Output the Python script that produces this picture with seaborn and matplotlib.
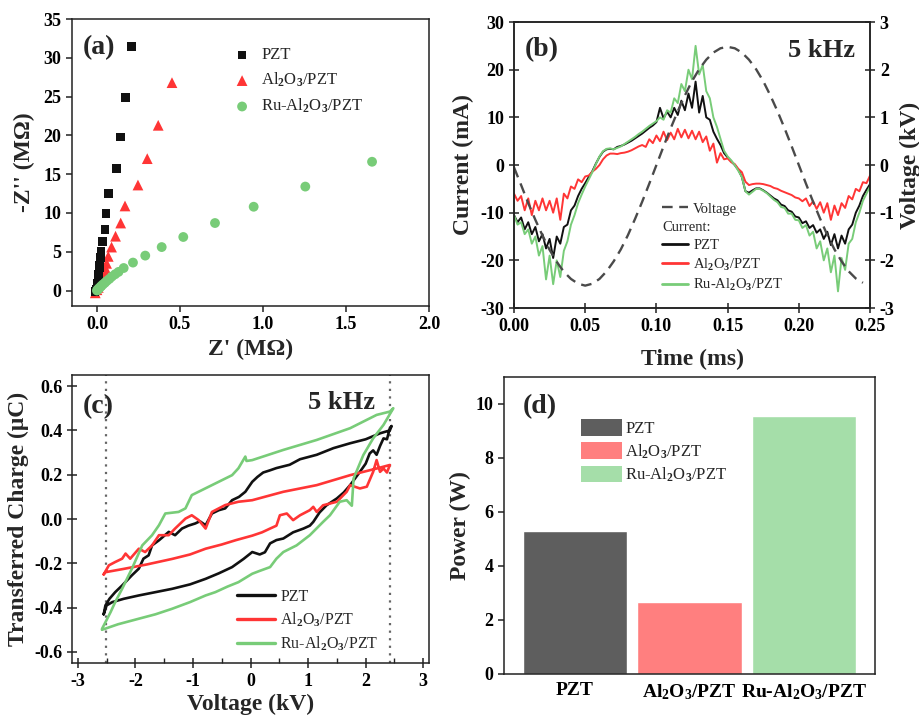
import matplotlib
matplotlib.use("Agg")
import matplotlib.pyplot as plt
from matplotlib.lines import Line2D
from matplotlib.patches import Patch
from matplotlib.ticker import FormatStrFormatter, MultipleLocator
import seaborn as sns

# ---------------- data ----------------
# (a) Nyquist plot, Z' / -Z'' in MOhm
zr_pzt = [-0.012, -0.006, 0.0, 0.003, 0.005, 0.007, 0.009, 0.011, 0.013, 0.015, 0.017,
          0.019, 0.021, 0.024, 0.034, 0.048, 0.054, 0.068, 0.118, 0.143, 0.171, 0.209]
zi_pzt = [-0.1, 0.1, 0.3, 0.6, 0.9, 1.3, 1.7, 2.1, 2.5, 2.9, 3.3,
          3.8, 4.3, 5.0, 6.3, 7.9, 9.9, 12.5, 15.7, 19.8, 24.9, 31.5]
zr_al = [-0.01, 0.0, 0.008, 0.015, 0.022, 0.03, 0.037, 0.044, 0.05, 0.058,
         0.068, 0.088, 0.112, 0.143, 0.169, 0.247, 0.303, 0.369, 0.452]
zi_al = [-0.3, 0.1, 0.4, 0.8, 1.2, 1.6, 2.0, 2.5, 2.9, 3.5,
         4.4, 5.6, 7.0, 8.7, 10.9, 13.6, 17.0, 21.3, 26.8]
zr_ru = [0.0, 0.005, 0.011, 0.018, 0.026, 0.036, 0.048, 0.06, 0.075, 0.09, 0.11,
         0.13, 0.161, 0.217, 0.291, 0.39, 0.52, 0.711, 0.944, 1.255, 1.657]
zi_ru = [0.0, 0.12, 0.25, 0.4, 0.58, 0.78, 1.0, 1.25, 1.5, 1.8, 2.1,
         2.4, 2.9, 3.6, 4.5, 5.6, 6.9, 8.7, 10.8, 13.4, 16.6]

# (b) current traces (mA) and applied voltage (kV) versus time (ms)
t_ms = [0.0000, 0.0025, 0.0050, 0.0075, 0.0100, 0.0125, 0.0150, 0.0175, 0.0200, 0.0225,
        0.0250, 0.0275, 0.0300, 0.0325, 0.0350, 0.0375, 0.0400, 0.0425, 0.0450, 0.0475,
        0.0500, 0.0525, 0.0550, 0.0575, 0.0600, 0.0625, 0.0650, 0.0675, 0.0700, 0.0725,
        0.0750, 0.0775, 0.0800, 0.0825, 0.0850, 0.0875, 0.0900, 0.0925, 0.0950, 0.0975,
        0.1000, 0.1025, 0.1050, 0.1075, 0.1100, 0.1125, 0.1150, 0.1175, 0.1200, 0.1225,
        0.1250, 0.1275, 0.1300, 0.1325, 0.1350, 0.1375, 0.1400, 0.1425, 0.1450, 0.1475,
        0.1500, 0.1525, 0.1550, 0.1575, 0.1600, 0.1625, 0.1650, 0.1675, 0.1700, 0.1725,
        0.1750, 0.1775, 0.1800, 0.1825, 0.1850, 0.1875, 0.1900, 0.1925, 0.1950, 0.1975,
        0.2000, 0.2025, 0.2050, 0.2075, 0.2100, 0.2125, 0.2150, 0.2175, 0.2200, 0.2225,
        0.2250, 0.2275, 0.2300, 0.2325, 0.2350, 0.2375, 0.2400, 0.2425, 0.2450, 0.2475,
        0.2500]
i_pzt = [-10.5, -12.0, -11.0, -13.5, -12.0, -14.5, -13.0, -16.0, -14.5, -17.5,
         -15.5, -19.5, -15.0, -16.5, -13.0, -12.5, -9.5, -8.5, -6.5, -5.0,
         -3.8, -2.5, -1.3, 0.3, 1.7, 2.8, 3.3, 3.4, 3.3, 3.8,
         4.0, 4.3, 4.7, 5.1, 5.6, 6.1, 6.6, 7.2, 7.8, 8.3,
         9.0, 12.0, 9.8, 11.2, 10.0, 12.0, 10.5, 13.5, 11.5, 15.0,
         12.0, 17.5, 11.0, 14.5, 10.0, 9.5, 7.0, 5.5, 4.2, 2.5,
         1.6, 0.8, 0.0, -1.0, -2.5, -5.5, -5.8, -5.3, -4.9, -4.9,
         -5.3, -5.8, -6.4, -7.0, -7.4, -8.3, -8.6, -9.5, -9.8, -10.8,
         -11.0, -12.2, -11.8, -13.2, -12.6, -14.2, -13.5, -15.5, -14.0, -16.8,
         -14.5, -17.5, -14.8, -16.5, -13.5, -12.5, -10.0, -8.5, -6.5, -5.2,
         -4.0]
i_al = [-6.0, -7.5, -6.5, -9.5, -7.0, -10.5, -7.5, -9.5, -7.0, -9.5,
        -7.5, -10.0, -7.0, -11.5, -6.0, -7.0, -4.5, -5.0, -3.0, -3.6,
        -2.4, -2.2, -1.4, -0.8, 0.0, 1.2, 2.0, 2.4, 2.4, 2.3,
        2.5, 2.6, 2.8, 3.1, 3.5, 3.9, 4.2, 3.8, 5.4, 4.6,
        6.2, 5.0, 7.0, 5.2, 6.8, 5.4, 7.6, 5.8, 7.4, 5.6,
        7.2, 5.4, 7.0, 4.8, 6.0, 3.0, 4.5, 0.5, 2.5, 1.2,
        1.4, 0.6, 0.2, -0.8, -1.5, -3.5, -4.2, -4.0, -3.9, -3.9,
        -4.0, -4.2, -4.4, -4.8, -5.0, -5.4, -5.7, -6.0, -6.3, -6.8,
        -7.0, -7.6, -7.0, -8.6, -7.6, -9.2, -7.8, -10.0, -8.0, -11.5,
        -8.5, -10.5, -8.0, -9.0, -6.5, -7.2, -5.0, -5.5, -3.6, -3.8,
        -2.2]
i_ru = [-10.5, -12.5, -12.0, -14.5, -13.5, -16.5, -15.0, -19.0, -17.0, -24.0,
        -19.0, -25.0, -20.0, -23.5, -18.0, -16.0, -12.5, -10.5, -8.0, -6.2,
        -4.5, -3.0, -1.5, 0.2, 1.8, 2.9, 3.4, 3.5, 3.3, 3.6,
        3.9, 4.4, 4.9, 5.4, 5.9, 6.5, 7.0, 7.6, 8.2, 8.7,
        9.2, 10.0, 9.5, 11.5, 11.0, 14.0, 13.0, 17.0, 15.5, 20.0,
        18.0, 25.0, 19.0, 21.0, 15.5, 14.0, 10.0, 8.0, 5.5, 3.0,
        1.8, 1.0, 0.0, -1.2, -2.5, -5.5, -6.2, -5.6, -5.0, -5.0,
        -5.4, -5.9, -6.6, -7.3, -7.8, -8.8, -9.0, -10.2, -10.2, -11.5,
        -11.6, -13.2, -12.6, -14.8, -14.0, -17.5, -16.0, -20.0, -17.5, -22.5,
        -19.0, -26.5, -19.5, -22.0, -16.5, -15.5, -12.0, -10.0, -7.5, -6.0,
        -4.5]
tv_ms = [0.000, 0.005, 0.010, 0.015, 0.020, 0.025, 0.030, 0.035, 0.040, 0.045,
         0.050, 0.055, 0.060, 0.065, 0.070, 0.075, 0.080, 0.085, 0.090, 0.095,
         0.100, 0.105, 0.110, 0.115, 0.120, 0.125, 0.130, 0.135, 0.140, 0.145,
         0.150, 0.155, 0.160, 0.165, 0.170, 0.175, 0.180, 0.185, 0.190, 0.195,
         0.200, 0.205, 0.210, 0.215, 0.220, 0.225, 0.230, 0.235, 0.240, 0.245]
v_kv = [-0.05, -0.42, -0.80, -1.15, -1.48, -1.78, -2.03, -2.24, -2.39, -2.49,
        -2.53, -2.49, -2.39, -2.23, -2.02, -1.77, -1.47, -1.13, -0.77, -0.39,
        0.00, 0.39, 0.77, 1.13, 1.46, 1.76, 2.01, 2.21, 2.36, 2.45,
        2.48, 2.45, 2.36, 2.21, 2.01, 1.76, 1.46, 1.13, 0.77, 0.39,
        0.00, -0.39, -0.77, -1.13, -1.47, -1.77, -2.02, -2.23, -2.38, -2.47]

# (c) Q-V loops: lower branch (left to right) then upper branch (right to left)
v_pzt = [-2.55, -2.50, -2.40, -2.20, -1.94, -1.65, -1.36, -1.05, -0.78, -0.55, -0.32, -0.12,
         0.03, 0.16, 0.25, 0.34, 0.45, 0.57, 0.74, 0.92, 1.03, 1.09, 1.20, 1.32, 1.50, 1.62,
         1.73, 1.90, 2.00, 2.07, 2.13, 2.19, 2.25, 2.31, 2.37, 2.42, 2.45,
         2.42, 2.25, 2.00, 1.73, 1.44, 1.15, 0.86, 0.68, 0.45, 0.34, 0.22, 0.12, 0.03,
         -0.09, -0.20, -0.32, -0.44, -0.55, -0.67, -0.78, -0.88, -0.96, -1.08, -1.19, -1.31,
         -1.42, -1.59, -1.71, -1.77, -1.86, -1.94, -2.06, -2.23, -2.35, -2.45, -2.52, -2.55]
q_pzt = [-0.43, -0.39, -0.375, -0.36, -0.345, -0.33, -0.315, -0.295, -0.27, -0.245, -0.217, -0.18,
         -0.149, -0.16, -0.15, -0.11, -0.095, -0.088, -0.06, -0.043, -0.03, -0.013, 0.03, 0.062,
         0.093, 0.12, 0.153, 0.213, 0.25, 0.296, 0.31, 0.29, 0.33, 0.364, 0.36, 0.41, 0.42,
         0.40, 0.387, 0.36, 0.342, 0.32, 0.29, 0.27, 0.245, 0.23, 0.22, 0.21, 0.19, 0.168,
         0.123, 0.10, 0.085, 0.048, 0.04, 0.025, -0.028, -0.01, -0.02, -0.03, -0.043, -0.073,
         -0.058, -0.096, -0.119, -0.164, -0.179, -0.224, -0.254, -0.30, -0.33, -0.36, -0.39, -0.43]
v_al = [-2.55, -2.52, -2.20, -1.80, -1.36, -1.05, -0.78, -0.50, -0.25, 0.03, 0.20, 0.34,
        0.45, 0.51, 0.63, 0.74, 0.86, 1.03, 1.09, 1.15, 1.26, 1.50, 1.67, 1.73, 1.90, 2.02,
        2.13, 2.19, 2.25, 2.31, 2.37, 2.42,
        2.42, 2.19, 1.73, 1.15, 0.57, 0.03, -0.21, -0.44, -0.67, -0.78, -0.90, -1.02, -1.13,
        -1.31, -1.42, -1.59, -1.71, -1.83, -1.94, -2.09, -2.17, -2.23, -2.35, -2.46, -2.55]
q_al = [-0.25, -0.24, -0.225, -0.205, -0.18, -0.16, -0.134, -0.115, -0.095, -0.075, -0.06, -0.043,
        -0.03, 0.017, 0.025, -0.005, 0.017, 0.04, 0.055, 0.032, 0.062, 0.078, 0.123, 0.153,
        0.138, 0.146, 0.213, 0.266, 0.213, 0.228, 0.21, 0.244,
        0.244, 0.228, 0.198, 0.153, 0.123, 0.085, 0.078, 0.063, 0.032, -0.043, -0.005, 0.017,
        0.002, -0.043, -0.073, -0.073, -0.119, -0.149, -0.134, -0.179, -0.156, -0.179, -0.194,
        -0.209, -0.25]
v_ru = [-2.58, -2.30, -1.94, -1.65, -1.36, -1.05, -0.78, -0.61, -0.40, -0.21, 0.03, 0.15,
        0.34, 0.45, 0.57, 0.80, 1.03, 1.26, 1.38, 1.55, 1.67, 1.76, 1.79, 1.96, 2.13, 2.31,
        2.48,
        2.42, 2.19, 1.73, 1.15, 0.57, 0.03, -0.07, -0.09, -0.21, -0.32, -0.67, -1.02, -1.13,
        -1.25, -1.48, -1.59, -1.71, -1.88, -2.06, -2.23, -2.35, -2.43, -2.52, -2.58]
q_ru = [-0.50, -0.475, -0.45, -0.43, -0.405, -0.375, -0.345, -0.33, -0.305, -0.285, -0.247,
        -0.235, -0.217, -0.179, -0.149, -0.119, -0.073, -0.013, 0.017, 0.078, 0.085, 0.06,
        0.183, 0.289, 0.364, 0.425, 0.50,
        0.485, 0.47, 0.41, 0.357, 0.312, 0.266, 0.262, 0.282, 0.229, 0.198, 0.153, 0.108,
        0.048, 0.032, 0.025, -0.028, -0.073, -0.119, -0.224, -0.315, -0.375, -0.42, -0.466,
        -0.496]
v_limits = [-2.51, 2.42]

# (d) output power (W)
power_w = [5.30, 2.68, 9.56]

# labels and colours
lab_pzt = "PZT"
lab_al = r"Al$_2$O$_3$/PZT"
lab_ru = r"Ru-Al$_2$O$_3$/PZT"
bar_ticks = ["PZT", r"Al$_\mathbf{2}$O$_\mathbf{3}$/PZT", r"Ru-Al$_\mathbf{2}$O$_\mathbf{3}$/PZT"]
c_black, c_red, c_green = "#111111", "#ff3535", "#78cc78"
bar_colors = ["#5e5e5e", "#ff7f7f", "#a5dea9"]

# ---------------- style ----------------
sns.set_theme(style="ticks")
plt.rcParams["font.family"] = ["Liberation Serif", "DejaVu Serif"]
plt.rcParams.update({
    "font.weight": "bold",
    "axes.labelweight": "bold",
    "axes.labelsize": 17,
    "xtick.labelsize": 13,
    "ytick.labelsize": 13,
    "axes.unicode_minus": False,
    "mathtext.fontset": "custom",
    "mathtext.rm": "Liberation Serif",
    "mathtext.it": "Liberation Serif:italic",
    "mathtext.bf": "Liberation Serif:bold",
    "axes.edgecolor": "#222222",
    "axes.linewidth": 1.1,
    "xtick.color": "#222222",
    "ytick.color": "#222222",
    "xtick.labelcolor": "black",
    "ytick.labelcolor": "black",
})
leg_font = {"weight": "normal", "size": 12}


def bold_ticks(ax):
    for lbl in ax.get_xticklabels() + ax.get_yticklabels():
        lbl.set_fontweight("bold")


fig = plt.figure(figsize=(9.2, 7.16), dpi=100)
ax_a = fig.add_axes([0.0783, 0.5726, 0.388, 0.4008])
ax_b = fig.add_axes([0.5587, 0.5698, 0.387, 0.3994])
ax_c = fig.add_axes([0.0783, 0.0740, 0.388, 0.4022])
ax_d = fig.add_axes([0.5478, 0.0587, 0.4033, 0.4148])

# ---------------- (a) ----------------
sns.scatterplot(x=zr_pzt, y=zi_pzt, marker="s", s=40, color=c_black, edgecolor="none",
                label=lab_pzt, ax=ax_a, zorder=3)
sns.scatterplot(x=zr_al, y=zi_al, marker="^", s=60, color=c_red, edgecolor="none",
                label=lab_al, ax=ax_a, zorder=2)
sns.scatterplot(x=zr_ru, y=zi_ru, marker="o", s=50, color=c_green, edgecolor="none",
                label=lab_ru, ax=ax_a, zorder=4)
ax_a.set_xlim(-0.15, 2.0)
ax_a.set_ylim(-2.0, 35)
ax_a.set_xticks([0.0, 0.5, 1.0, 1.5, 2.0])
ax_a.xaxis.set_major_formatter(FormatStrFormatter("%.1f"))
ax_a.set_yticks(range(0, 36, 5))
ax_a.tick_params(direction="out", length=4, width=1.1)
ax_a.set_xlabel("Z' (MΩ)", labelpad=4)
ax_a.set_ylabel("-Z'' (MΩ)", labelpad=6)
ax_a.legend(loc="upper left", bbox_to_anchor=(0.425, 0.93), frameon=False, prop=leg_font,
            handlelength=1.2, handletextpad=0.55, labelspacing=0.45, borderpad=0)
ax_a.text(0.03, 0.90, "(a)", transform=ax_a.transAxes, fontsize=20, va="center", ha="left")
bold_ticks(ax_a)

# ---------------- (b) ----------------
ax_v = ax_b.twinx()
sns.lineplot(x=t_ms, y=i_pzt, color=c_black, lw=1.4, estimator=None, sort=False, ax=ax_b)
sns.lineplot(x=t_ms, y=i_al, color=c_red, lw=1.4, estimator=None, sort=False, ax=ax_b)
sns.lineplot(x=t_ms, y=i_ru, color=c_green, lw=1.4, estimator=None, sort=False, ax=ax_b)
sns.lineplot(x=tv_ms, y=v_kv, color="#4a4a4a", lw=1.7, linestyle=(0, (4.5, 2.8)),
             estimator=None, sort=False, ax=ax_v)
ax_b.set_xlim(0, 0.25)
ax_b.set_ylim(-30, 30)
ax_v.set_ylim(-3, 3)
ax_b.set_xticks([0.0, 0.05, 0.10, 0.15, 0.20, 0.25])
ax_b.xaxis.set_major_formatter(FormatStrFormatter("%.2f"))
ax_b.set_yticks(range(-30, 31, 10))
ax_v.set_yticks(range(-3, 4, 1))
ax_b.tick_params(direction="inout", length=7, width=1.1)
ax_v.tick_params(direction="inout", length=7, width=1.1)
ax_b.set_xlabel("Time (ms)", labelpad=10)
ax_b.set_ylabel("Current (mA)", labelpad=5)
ax_v.set_ylabel("Voltage (kV)", labelpad=4)
b_handles = [Line2D([], [], color="#4a4a4a", lw=1.7, linestyle=(0, (4.5, 2.8))),
             Line2D([], [], color="none"),
             Line2D([], [], color=c_black, lw=2),
             Line2D([], [], color=c_red, lw=2),
             Line2D([], [], color=c_green, lw=2)]
b_labels = ["Voltage", "Current:", lab_pzt, lab_al, lab_ru]
leg_b = ax_b.legend(b_handles, b_labels, loc="upper left", bbox_to_anchor=(0.395, 0.395),
                    frameon=False, prop={"weight": "normal", "size": 10.5},
                    handlelength=1.8, handletextpad=0.35, labelspacing=0.33, borderpad=0)
leg_b.get_texts()[1].set_x(-31)
ax_b.text(0.03, 0.905, "(b)", transform=ax_b.transAxes, fontsize=20, va="center", ha="left")
ax_b.text(0.958, 0.90, "5 kHz", transform=ax_b.transAxes, fontsize=19, va="center", ha="right")
bold_ticks(ax_b)
bold_ticks(ax_v)

# ---------------- (c) ----------------
for vx in v_limits:
    ax_c.axvline(vx, color="#666666", lw=1.6, linestyle=(0, (1, 2.4)), zorder=1)
sns.lineplot(x=v_pzt, y=q_pzt, color=c_black, lw=1.9, estimator=None, sort=False, ax=ax_c)
sns.lineplot(x=v_al, y=q_al, color=c_red, lw=1.9, estimator=None, sort=False, ax=ax_c)
sns.lineplot(x=v_ru, y=q_ru, color=c_green, lw=1.9, estimator=None, sort=False, ax=ax_c)
ax_c.set_xlim(-3.1, 3.1)
ax_c.set_ylim(-0.65, 0.65)
ax_c.set_xticks(range(-3, 4))
ax_c.xaxis.set_minor_locator(MultipleLocator(0.5))
ax_c.set_yticks([-0.6, -0.4, -0.2, 0.0, 0.2, 0.4, 0.6])
ax_c.yaxis.set_major_formatter(FormatStrFormatter("%.1f"))
ax_c.tick_params(which="major", direction="inout", length=7, width=1.1)
ax_c.tick_params(which="minor", axis="x", direction="in", length=3.5, width=1.0)
ax_c.set_xlabel("Voltage (kV)", labelpad=3)
ax_c.set_ylabel("Transferred Charge (μC)", labelpad=4)
c_handles = [Line2D([], [], color=c_black, lw=2.4),
             Line2D([], [], color=c_red, lw=2.4),
             Line2D([], [], color=c_green, lw=2.4)]
ax_c.legend(c_handles, [lab_pzt, lab_al, lab_ru], loc="upper left", bbox_to_anchor=(0.44, 0.285),
            frameon=False, prop={"weight": "normal", "size": 11.5},
            handlelength=2.4, handletextpad=0.3, labelspacing=0.35, borderpad=0)
ax_c.text(0.03, 0.89, "(c)", transform=ax_c.transAxes, fontsize=20, va="center", ha="left")
ax_c.text(0.85, 0.905, "5 kHz", transform=ax_c.transAxes, fontsize=19, va="center", ha="right")
bold_ticks(ax_c)

# ---------------- (d) ----------------
sns.barplot(x=bar_ticks, y=power_w, hue=bar_ticks, palette=bar_colors, saturation=1,
            width=0.91, dodge=False, legend=False, ax=ax_d)
ax_d.set_xlim(-0.62, 2.62)
ax_d.set_ylim(0, 11)
ax_d.set_yticks(range(0, 11, 2))
ax_d.tick_params(axis="y", direction="out", length=4, width=1.1)
ax_d.tick_params(axis="x", length=0, labelsize=14, pad=6)
ax_d.set_xlabel("")
ax_d.set_ylabel("Power (W)", labelpad=3)
d_handles = [Patch(facecolor=c, edgecolor="none") for c in bar_colors]
ax_d.legend(d_handles, [lab_pzt, lab_al, lab_ru], loc="upper left", bbox_to_anchor=(0.186, 0.885),
            frameon=False, prop=leg_font, handlelength=2.45, handleheight=1.15,
            handletextpad=0.2, labelspacing=0.3, borderpad=0)
ax_d.text(0.05, 0.90, "(d)", transform=ax_d.transAxes, fontsize=20, va="center", ha="left")
bold_ticks(ax_d)

fig.savefig("out.png", dpi=100)
